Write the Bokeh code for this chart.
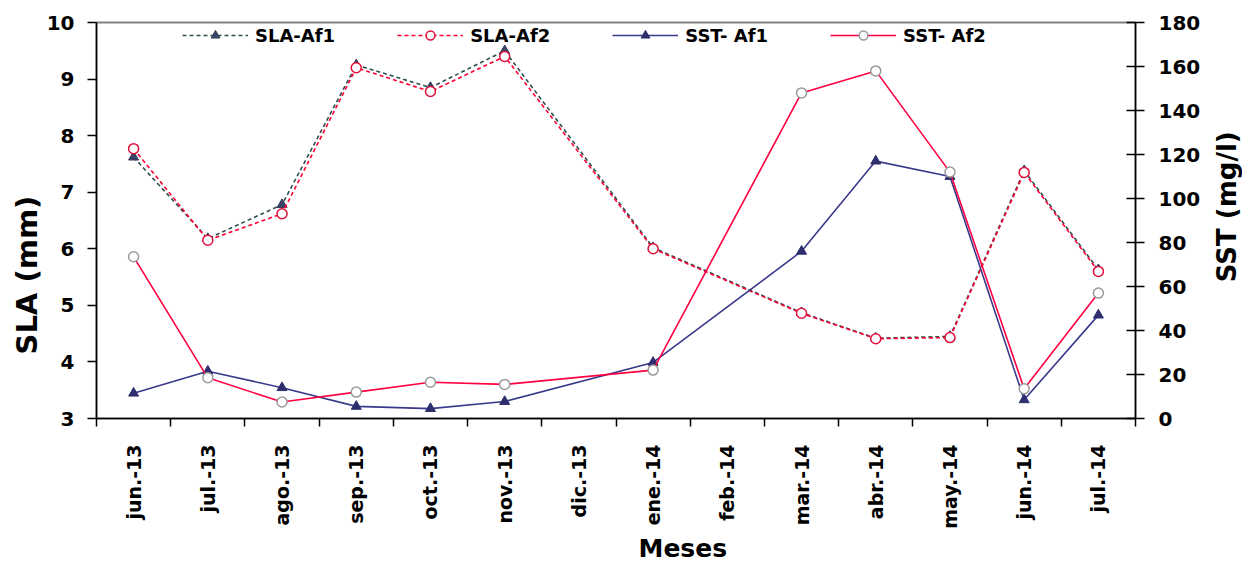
from math import pi
from bokeh.plotting import figure
from bokeh.layouts import row
from bokeh.models import (Range1d, LinearAxis, FixedTicker, ColumnDataSource,
                          Legend, LegendItem, Title, Label)
from bokeh.embed import file_html
from bokeh.resources import INLINE

# ---------------- data ----------------
months = ["jun.-13", "jul.-13", "ago.-13", "sep.-13", "oct.-13", "nov.-13", "dic.-13",
          "ene.-14", "feb.-14", "mar.-14", "abr.-14", "may.-14", "jun.-14", "jul.-14"]
sla_af1 = [7.62, 6.18, 6.78, 9.25, 8.85, 9.50, None, 6.02, None, 4.87, 4.42, 4.45, 7.38, 5.63]
sla_af2 = [7.77, 6.15, 6.62, 9.20, 8.78, 9.40, None, 6.00, None, 4.86, 4.41, 4.43, 7.35, 5.60]
sst_af1 = [11.5, 21.5, 14.0, 5.5, 4.5, 7.7, None, 25.5, None, 76.0, 117.0, 110.0, 8.5, 47.0]
sst_af2 = [73.5, 18.5, 7.5, 12.0, 16.5, 15.5, None, 22.0, None, 148.0, 158.0, 112.0, 13.5, 57.0]
sla_ticks = [3, 4, 5, 6, 7, 8, 9, 10]
sst_ticks = [0, 20, 40, 60, 80, 100, 120, 140, 160, 180]

FONT = "DejaVu Sans"
centers = [i + 0.5 for i in range(len(months))]
bounds = list(range(len(months) + 1))

W_MAIN, W_SIDE, H = 1210, 32, 563


def src(vals):
    xs = [c for c, v in zip(centers, vals) if v is not None]
    ys = [v for v in vals if v is not None]
    return ColumnDataSource(dict(x=xs, y=ys))


p = figure(width=W_MAIN, height=H, output_backend="svg", toolbar_location=None,
           x_range=Range1d(0, len(months)), y_range=Range1d(3, 10),
           min_border_left=96, min_border_right=75, min_border_top=22, min_border_bottom=145,
           background_fill_color="white", border_fill_color="white")
p.extra_y_ranges = {"sst": Range1d(0, 180)}
p.grid.visible = False
p.outline_line_color = "#808080"
p.outline_line_width = 2

# SLA series (left axis, dashed)
s1 = src(sla_af1)
r1l = p.line("x", "y", source=s1, line_color="#2F4F4F", line_dash="4 3", line_width=1.6)
r1m = p.scatter("x", "y", source=s1, marker="triangle", size=10,
                fill_color="#3A4566", line_color="#2F3A55")
s2 = src(sla_af2)
r2l = p.line("x", "y", source=s2, line_color="#FF0033", line_dash="4 3", line_width=1.6)
r2m = p.scatter("x", "y", source=s2, marker="circle", size=10,
                fill_color="white", line_color="#E0103A", line_width=1.5)

# SST series (right axis, solid)
s3 = src(sst_af1)
r3l = p.line("x", "y", source=s3, y_range_name="sst", line_color="#3A3A8C", line_width=1.6)
r3m = p.scatter("x", "y", source=s3, y_range_name="sst", marker="triangle", size=10,
                fill_color="#2E2E6E", line_color="#2E2E6E")
s4 = src(sst_af2)
r4l = p.line("x", "y", source=s4, y_range_name="sst", line_color="#FF0040", line_width=1.6)
r4m = p.scatter("x", "y", source=s4, y_range_name="sst", marker="circle", size=10,
                fill_color="white", line_color="#9A9A9A", line_width=1.5)

# ---------------- axes ----------------
xa = p.xaxis[0]
xa.ticker = FixedTicker(ticks=centers, minor_ticks=bounds)
xa.major_label_overrides = {c: m for c, m in zip(centers, months)}
xa.major_tick_in = 0
xa.major_tick_out = 0
xa.minor_tick_in = 0
xa.minor_tick_out = 8
xa.minor_tick_line_color = "black"
xa.minor_tick_line_width = 1.5
xa.major_label_orientation = pi / 2
xa.major_label_standoff = 18
xa.major_label_text_font = FONT
xa.major_label_text_font_style = "bold"
xa.major_label_text_font_size = "19px"
xa.major_label_text_color = "black"
xa.axis_line_color = "black"
xa.axis_line_width = 1.5

ya = p.yaxis[0]
ya.ticker = FixedTicker(ticks=sla_ticks, minor_ticks=[])
ya.major_tick_in = 0
ya.major_tick_out = 9
ya.major_tick_line_width = 1.5
ya.major_label_standoff = 13
ya.major_label_text_font = FONT
ya.major_label_text_font_style = "bold"
ya.major_label_text_font_size = "20px"
ya.major_label_text_color = "black"
ya.axis_line_color = "black"
ya.axis_line_width = 1.5

yr = LinearAxis(y_range_name="sst", ticker=FixedTicker(ticks=sst_ticks, minor_ticks=[]))
yr.major_tick_in = 9
yr.major_tick_out = 9
yr.major_tick_line_width = 1.5
yr.major_label_standoff = 14
yr.major_label_text_font = FONT
yr.major_label_text_font_style = "bold"
yr.major_label_text_font_size = "20px"
yr.major_label_text_color = "black"
yr.axis_line_color = "black"
yr.axis_line_width = 1.5
p.add_layout(yr, "right")

# axis titles
p.add_layout(Title(text="SLA (mm)", align="left", offset=64, standoff=0,
                   text_font=FONT, text_font_style="bold", text_font_size="29px",
                   text_color="black"), "left")
p.add_layout(Title(text="Meses", align="left", offset=542, standoff=0,
                   text_font=FONT, text_font_style="bold", text_font_size="25px",
                   text_color="black"), "below")

# ---------------- legend ----------------
legend = Legend(items=[LegendItem(label="SLA-Af1", renderers=[r1l, r1m]),
                       LegendItem(label="SLA-Af2", renderers=[r2l, r2m]),
                       LegendItem(label="SST- Af1", renderers=[r3l, r3m]),
                       LegendItem(label="SST- Af2", renderers=[r4l, r4m])],
                orientation="horizontal", location=(84, 370),
                label_text_font=FONT, label_text_font_style="bold",
                label_text_font_size="18px", label_text_color="black",
                glyph_width=66, glyph_height=22,
                label_height=22, label_standoff=7, spacing=62, padding=2, margin=0,
                background_fill_alpha=0, border_line_alpha=0)
p.add_layout(legend)

# narrow strip on the right carrying the right axis title (reads bottom-to-top)
side = figure(width=W_SIDE, height=H, output_backend="svg", toolbar_location=None,
              x_range=Range1d(0, W_SIDE), y_range=Range1d(0, H),
              x_axis_location=None, y_axis_location=None, min_border=0,
              background_fill_color="white", border_fill_color="white")
side.grid.visible = False
side.outline_line_color = None
side.add_layout(Label(x=16, y=H - 262, text="SST (mg/l)", angle=pi / 2,
                      text_align="center", text_baseline="middle", text_font=FONT,
                      text_font_style="bold", text_font_size="26px", text_color="black"))

layout = row(p, side, spacing=0)
open("out.html", "w").write(file_html(layout, INLINE))
